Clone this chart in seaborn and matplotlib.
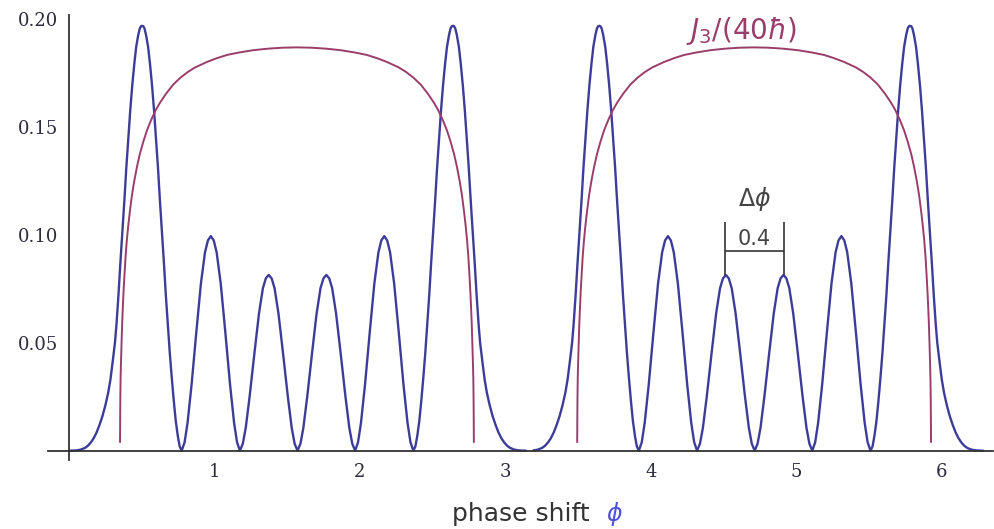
import matplotlib
matplotlib.use("Agg")
import matplotlib.pyplot as plt
from matplotlib.ticker import MultipleLocator, FormatStrFormatter
import seaborn as sns

# curva azul: valores, lobulo por lobulo
# lobulo grande (pico 0.197), con la cola larga a la izquierda
lobe_outer_y = [0.0, 0.00015, 0.0005, 0.0013, 0.0023, 0.0038, 0.0058, 0.0085, 0.012, 0.016,
                0.021, 0.027, 0.033, 0.041, 0.050, 0.0581, 0.0719, 0.0867, 0.1015, 0.1162,
                0.1310, 0.1448, 0.1576, 0.1694, 0.1793, 0.1872, 0.1927, 0.1958, 0.1968, 0.197,
                0.1968, 0.1958, 0.1927, 0.1872, 0.1793, 0.1694, 0.1576, 0.1448, 0.1310, 0.1162,
                0.1015, 0.0867, 0.0719, 0.0581, 0.0453, 0.0335, 0.0227, 0.0138, 0.0069, 0.0020, 0.0]
# el mismo lobulo grande visto al reves (cola a la derecha)
lobe_outer_rev_y = [0.0020, 0.0069, 0.0138, 0.0227, 0.0335, 0.0453, 0.0581, 0.0719, 0.0867, 0.1015,
                    0.1162, 0.1310, 0.1448, 0.1576, 0.1694, 0.1793, 0.1872, 0.1927, 0.1958, 0.1968,
                    0.197, 0.1968, 0.1958, 0.1927, 0.1872, 0.1793, 0.1694, 0.1576, 0.1448, 0.1310,
                    0.1162, 0.1015, 0.0867, 0.0719, 0.0581, 0.050, 0.041, 0.033, 0.027, 0.021,
                    0.016, 0.012, 0.0085, 0.0058, 0.0038, 0.0023, 0.0013, 0.0005, 0.00015, 0.0]
# lobulo de 0.10 y lobulo de 0.08
lobe_mid_y = [0.0040, 0.0129, 0.0308, 0.0547, 0.0776, 0.0920, 0.0975, 0.0995,
              0.0975, 0.0920, 0.0776, 0.0547, 0.0308, 0.0129, 0.0040, 0.0]
lobe_inner_y = [0.0033, 0.0106, 0.0253, 0.0448, 0.0636, 0.0754, 0.0799, 0.0815,
                0.0799, 0.0754, 0.0636, 0.0448, 0.0253, 0.0106, 0.0033, 0.0]

blue_x_left = [0.0, 0.05, 0.08, 0.11, 0.13, 0.15, 0.17, 0.19, 0.21, 0.23,
               0.25, 0.27, 0.285, 0.30, 0.316, 0.326, 0.340, 0.353, 0.367, 0.381,
               0.394, 0.408, 0.421, 0.435, 0.449, 0.462, 0.476, 0.487, 0.495, 0.503,
               0.511, 0.519, 0.530, 0.544, 0.557, 0.571, 0.585, 0.598, 0.612, 0.625,
               0.639, 0.653, 0.666, 0.680, 0.693, 0.707, 0.721, 0.734, 0.748, 0.761, 0.775,
               0.795, 0.815, 0.843, 0.875, 0.907, 0.935, 0.955, 0.975,
               0.995, 1.015, 1.043, 1.075, 1.107, 1.135, 1.155, 1.175,
               1.195, 1.215, 1.242, 1.274, 1.306, 1.333, 1.353, 1.373,
               1.393, 1.413, 1.440, 1.472, 1.504, 1.531, 1.551, 1.571,
               1.591, 1.611, 1.638, 1.670, 1.702, 1.729, 1.749, 1.769,
               1.789, 1.809, 1.836, 1.868, 1.900, 1.927, 1.947, 1.967,
               1.987, 2.007, 2.035, 2.067, 2.099, 2.127, 2.147, 2.167,
               2.187, 2.207, 2.235, 2.267, 2.299, 2.327, 2.347, 2.367,
               2.381, 2.394, 2.408, 2.421, 2.435, 2.449, 2.462, 2.476, 2.489, 2.503,
               2.517, 2.530, 2.544, 2.557, 2.571, 2.585, 2.598, 2.612, 2.623, 2.631,
               2.639, 2.647, 2.655, 2.666, 2.680, 2.693, 2.707, 2.721, 2.734, 2.748,
               2.761, 2.775, 2.789, 2.802, 2.816, 2.826, 2.842, 2.857, 2.872, 2.892,
               2.912, 2.932, 2.952, 2.972, 2.992, 3.012, 3.032, 3.062, 3.092, 3.142]

blue_x_right = [3.192, 3.222, 3.252, 3.272, 3.292, 3.312, 3.332, 3.352, 3.372,
                3.392, 3.412, 3.427, 3.442, 3.458, 3.468, 3.482, 3.495, 3.509, 3.523,
                3.536, 3.550, 3.563, 3.577, 3.591, 3.604, 3.618, 3.629, 3.637, 3.645,
                3.653, 3.661, 3.672, 3.686, 3.699, 3.713, 3.727, 3.740, 3.754, 3.767,
                3.781, 3.795, 3.808, 3.822, 3.835, 3.849, 3.863, 3.876, 3.890, 3.903, 3.917,
                3.937, 3.957, 3.985, 4.017, 4.049, 4.077, 4.097, 4.117,
                4.137, 4.157, 4.185, 4.217, 4.249, 4.277, 4.297, 4.317,
                4.337, 4.357, 4.384, 4.416, 4.448, 4.475, 4.495, 4.515,
                4.535, 4.555, 4.582, 4.614, 4.646, 4.673, 4.693, 4.713,
                4.733, 4.753, 4.780, 4.812, 4.844, 4.871, 4.891, 4.911,
                4.931, 4.951, 4.978, 5.010, 5.042, 5.069, 5.089, 5.109,
                5.129, 5.149, 5.177, 5.209, 5.241, 5.269, 5.289, 5.309,
                5.329, 5.349, 5.377, 5.409, 5.441, 5.469, 5.489, 5.509,
                5.523, 5.536, 5.550, 5.563, 5.577, 5.591, 5.604, 5.618, 5.631, 5.645,
                5.659, 5.672, 5.686, 5.699, 5.713, 5.727, 5.740, 5.754, 5.765, 5.773,
                5.781, 5.789, 5.797, 5.808, 5.822, 5.835, 5.849, 5.863, 5.876, 5.890,
                5.903, 5.917, 5.931, 5.944, 5.958, 5.968, 5.984, 5.999, 6.014, 6.034,
                6.054, 6.074, 6.094, 6.114, 6.134, 6.154, 6.174, 6.204, 6.234, 6.284]

blue_y_left = lobe_outer_y + lobe_mid_y + lobe_inner_y + lobe_inner_y + lobe_mid_y + lobe_outer_rev_y
blue_y_right = lobe_outer_y[1:] + lobe_mid_y + lobe_inner_y + lobe_inner_y + lobe_mid_y + lobe_outer_rev_y

# curva J3/(40 hbar), dos arcos
j3_x_1 = [0.351, 0.352, 0.353, 0.355, 0.358, 0.362, 0.366, 0.370, 0.375, 0.382, 0.389, 0.397,
          0.407, 0.417, 0.432, 0.447, 0.467, 0.487, 0.512, 0.537, 0.567, 0.597, 0.627, 0.667,
          0.717, 0.767, 0.817, 0.867, 0.947, 1.017, 1.087, 1.167, 1.267, 1.367, 1.467, 1.567,
          1.667, 1.767, 1.867, 1.967, 2.047, 2.117, 2.187, 2.267, 2.317, 2.367, 2.417, 2.467,
          2.507, 2.537, 2.567, 2.597, 2.622, 2.647, 2.667, 2.687, 2.702, 2.717, 2.727, 2.737,
          2.745, 2.752, 2.759, 2.764, 2.768, 2.772, 2.776, 2.779, 2.781, 2.782, 2.783]
j3_x_2 = [3.493, 3.494, 3.495, 3.497, 3.500, 3.504, 3.508, 3.512, 3.517, 3.524, 3.531, 3.539,
          3.549, 3.559, 3.574, 3.589, 3.609, 3.629, 3.654, 3.679, 3.709, 3.739, 3.769, 3.809,
          3.859, 3.909, 3.959, 4.009, 4.089, 4.159, 4.229, 4.309, 4.409, 4.509, 4.609, 4.709,
          4.809, 4.909, 5.009, 5.109, 5.189, 5.259, 5.329, 5.409, 5.459, 5.509, 5.559, 5.609,
          5.649, 5.679, 5.709, 5.739, 5.764, 5.789, 5.809, 5.829, 5.844, 5.859, 5.869, 5.879,
          5.887, 5.894, 5.901, 5.906, 5.910, 5.914, 5.918, 5.921, 5.923, 5.924, 5.925]
j3_y = [0.004, 0.015, 0.024, 0.034, 0.042, 0.051, 0.0595, 0.066, 0.0735, 0.082, 0.090, 0.097,
        0.104, 0.110, 0.118, 0.1244, 0.1315, 0.1375, 0.1435, 0.1487, 0.1537, 0.158, 0.1615, 0.1655,
        0.1698, 0.173, 0.1756, 0.1777, 0.1802, 0.182, 0.1835, 0.1846, 0.1857, 0.1864, 0.18685, 0.187,
        0.18685, 0.1864, 0.1857, 0.1846, 0.1835, 0.182, 0.1802, 0.1777, 0.1756, 0.173, 0.1698, 0.1655,
        0.1615, 0.158, 0.1537, 0.1487, 0.1435, 0.1375, 0.1315, 0.1244, 0.118, 0.110, 0.104, 0.097,
        0.090, 0.082, 0.0735, 0.066, 0.0595, 0.051, 0.042, 0.034, 0.024, 0.015, 0.004]

# anotacion Delta phi
bracket_x = [4.507, 4.913]
bracket_bottom = 0.0815
bracket_top = 0.1062
bracket_bar = 0.0927

x_ticks = [1, 2, 3, 4, 5, 6]
y_ticks = [0.05, 0.10, 0.15, 0.20]

azul = "#3d3d99"
morado = "#9a3d6b"
gris = "#333333"

sns.set_style("white")
plt.rcParams["font.family"] = ["DejaVu Sans"]
plt.rcParams["mathtext.fontset"] = "dejavusans"

fig = plt.figure(figsize=(9.94, 5.29), dpi=100)
ax = fig.add_axes([0.0483, 0.1304, 0.9507, 0.8412])

sns.lineplot(x=blue_x_left, y=blue_y_left, ax=ax, color=azul, linewidth=1.7, sort=False, estimator=None)
sns.lineplot(x=blue_x_right, y=blue_y_right, ax=ax, color=azul, linewidth=1.7, sort=False, estimator=None)
sns.lineplot(x=j3_x_1, y=j3_y, ax=ax, color=morado, linewidth=1.4, sort=False, estimator=None)
sns.lineplot(x=j3_x_2, y=j3_y, ax=ax, color=morado, linewidth=1.4, sort=False, estimator=None)

# corchete de 0.4
ax.vlines(bracket_x, bracket_bottom, bracket_top, color=gris, linewidth=1.2)
ax.hlines(bracket_bar, bracket_x[0], bracket_x[1], color=gris, linewidth=1.2)
mid = (bracket_x[0] + bracket_x[1]) / 2
ax.text(mid, bracket_bar + 0.0006, "0.4", ha="center", va="bottom", fontsize=15, color="#444444")
ax.text(mid, 0.1165, r"$\Delta\phi$", ha="center", va="center", fontsize=17, color="#444444")
ax.text(4.625, 0.1946, r"$J_3/(40\hbar)$", ha="center", va="center", fontsize=20, color=morado)

ax.set_xlim(-0.144, 6.351)
ax.set_ylim(-0.0043, 0.202)

for lado in ["top", "right"]:
    ax.spines[lado].set_visible(False)
ax.spines["left"].set_position(("data", 0))
ax.spines["bottom"].set_position(("data", 0))
for lado in ["left", "bottom"]:
    ax.spines[lado].set_color(gris)
    ax.spines[lado].set_linewidth(1.3)

ax.set_xticks(x_ticks)
ax.set_yticks(y_ticks)
ax.xaxis.set_minor_locator(MultipleLocator(0.2))
ax.yaxis.set_minor_locator(MultipleLocator(0.01))
ax.yaxis.set_major_formatter(FormatStrFormatter("%.2f"))
ax.tick_params(axis="x", which="major", direction="in", length=5, width=1.1, color=gris, pad=9)
ax.tick_params(axis="x", which="minor", direction="in", length=3, width=1.0, color=gris)
ax.tick_params(axis="y", which="major", direction="in", length=7, width=1.1, color=gris, pad=8)
ax.tick_params(axis="y", which="minor", direction="in", length=3, width=1.0, color=gris)
for lab in ax.get_xticklabels() + ax.get_yticklabels():
    lab.set_fontfamily("DejaVu Serif")
    lab.set_fontsize(13)
    lab.set_color("#2b2b3b")
ax.grid(False)
ax.set_xlabel("")
ax.set_ylabel("")

# etiqueta del eje x (phi en azul)
ax.text(0.573, -0.121, "phase shift", transform=ax.transAxes, ha="right", va="center",
        fontsize=18, color="#333333")
ax.text(0.590, -0.121, r"$\phi$", transform=ax.transAxes, ha="left", va="center",
        fontsize=17, color="#5050e0")

fig.savefig("out.png", dpi=100)
